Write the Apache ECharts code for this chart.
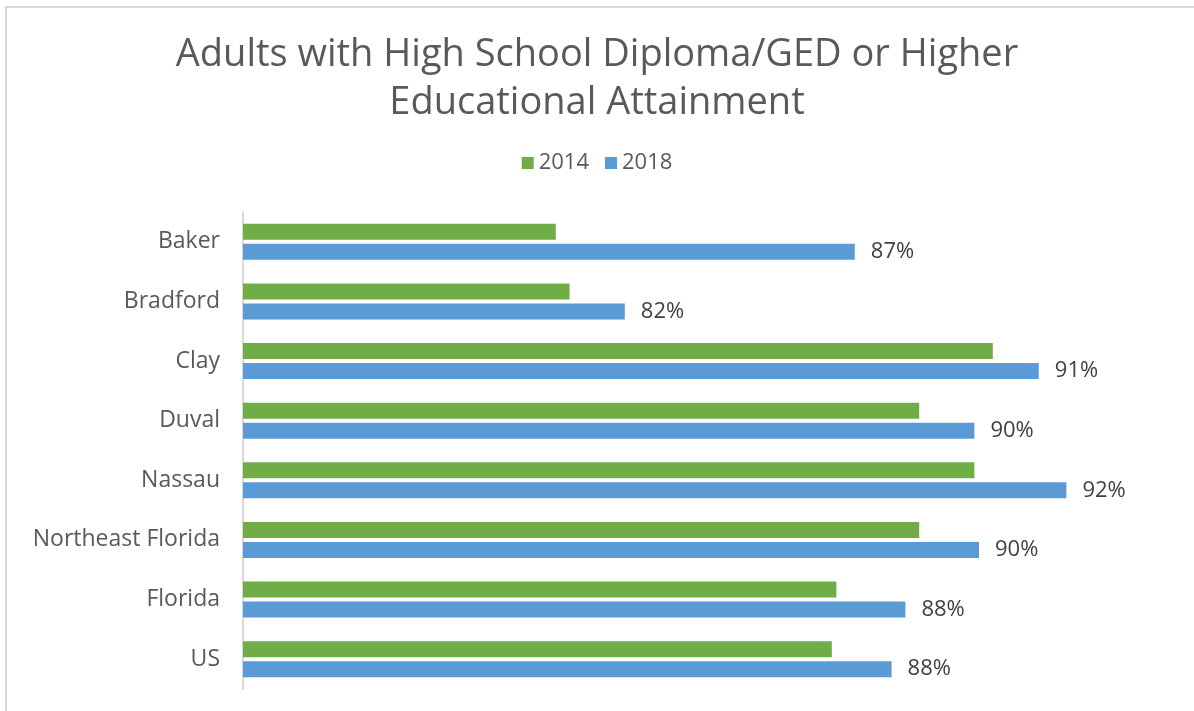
<!DOCTYPE html>
<html>
<head>
<meta charset="utf-8">
<title>Adults with High School Diploma/GED or Higher Educational Attainment</title>
<script src="https://cdn.jsdelivr.net/npm/echarts@6/dist/echarts.min.js"></script>
<style>
  html, body { margin: 0; padding: 0; background: #fff; }
  #chart { width: 1194px; height: 711px; }
</style>
</head>
<body>
<div id="chart"></div>
<script>
// values (percent)
const categories = ['Baker', 'Bradford', 'Clay', 'Duval', 'Nassau', 'Northeast Florida', 'Florida', 'US']
const values2014 = [80.8, 81.1, 90.3, 88.7, 89.9, 88.7, 86.9, 86.8]
const values2018 = [87.3, 82.3, 91.3, 89.9, 91.9, 90.0, 88.4, 88.1]
const seriesNames = ['2014', '2018']

const fontFamily = '"Open Sans", Lato, sans-serif'
const textColor = '#595959'

const myChart = echarts.init(document.getElementById('chart'))

myChart.setOption({
  animation: false,
  textStyle: { fontFamily },
  color: ['#70AD47', '#5B9BD5'],
  graphic: [
    {
      type: 'rect',
      shape: { x: 6, y: 7, width: 1200, height: 720 },
      style: { fill: 'none', stroke: '#d9d9d9', lineWidth: 2 },
      silent: true,
    },
  ],
  title: {
    text: 'Adults with High School Diploma/GED or Higher\nEducational Attainment',
    left: 'center',
    top: 26,
    textStyle: {
      color: textColor,
      fontFamily,
      fontWeight: 'normal',
      fontSize: 38,
      lineHeight: 48,
    },
  },
  legend: {
    data: seriesNames,
    top: 147,
    left: 'center',
    icon: 'rect',
    itemWidth: 12,
    itemHeight: 12,
    itemGap: 16,
    textStyle: { color: textColor, fontFamily, fontSize: 22 },
  },
  grid: {
    left: 243,
    right: 31,
    top: 212,
    bottom: 22,
  },
  xAxis: {
    type: 'value',
    min: 74,
    max: 94,
    show: false,
  },
  yAxis: {
    type: 'category',
    data: categories,
    inverse: true,
    axisLine: { lineStyle: { color: '#d9d9d9', width: 2 } },
    axisTick: { show: false },
    axisLabel: {
      margin: 23,
      color: textColor,
      fontFamily,
      fontSize: 23,
    },
  },
  series: [
    {
      name: seriesNames[0],
      type: 'bar',
      data: values2014,
      barWidth: 16,
      barGap: '25%',
    },
    {
      name: seriesNames[1],
      type: 'bar',
      data: values2018,
      barWidth: 16,
      label: {
        show: true,
        position: 'right',
        distance: 16,
        color: '#404040',
        fontFamily,
        fontSize: 22,
        formatter: (p) => Math.round(p.value) + '%',
      },
    },
  ],
})
</script>
</body>
</html>
